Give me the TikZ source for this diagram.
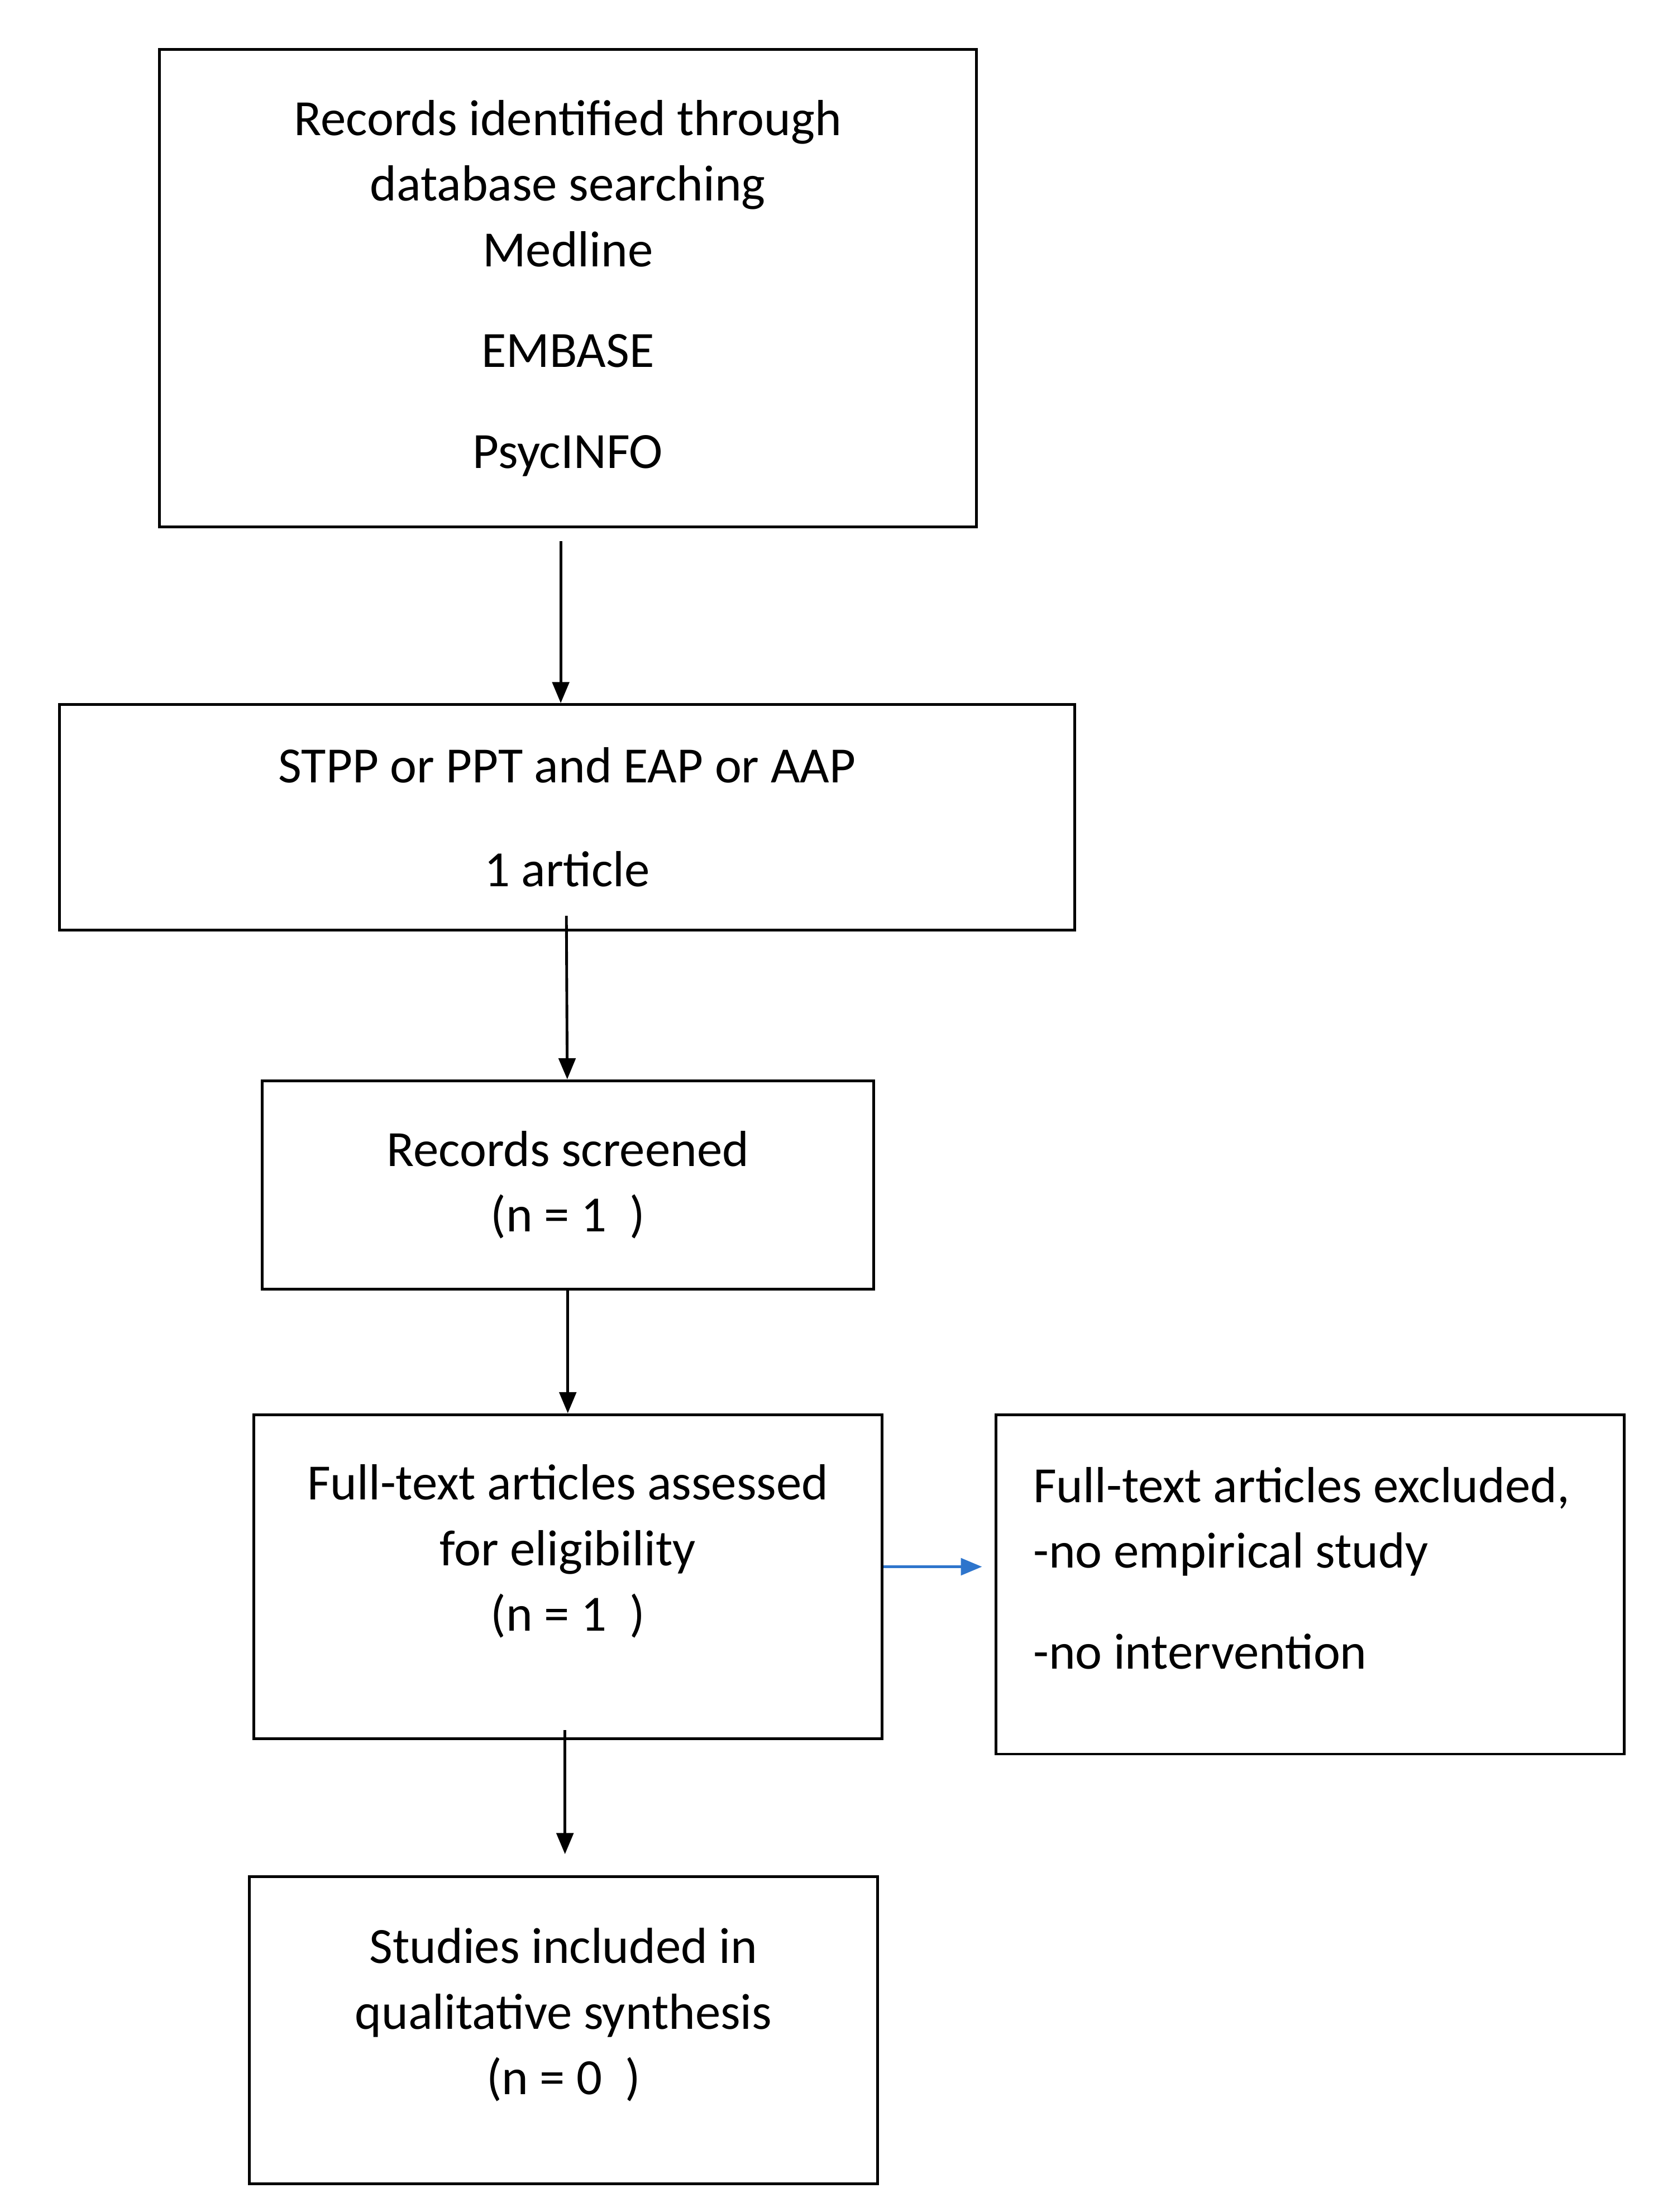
\documentclass[tikz,border=0pt]{standalone}
\usepackage{fontspec}
\setmainfont{Carlito}
\usepackage{tikz}
\usetikzlibrary{positioning, arrows.meta}
\definecolor{arrowblue}{RGB}{46,117,204}

\begin{document}
\begin{tikzpicture}[x=0.02cm, y=-0.02cm,
    box/.style={rectangle, draw, line width=1.1pt, align=center, inner sep=0pt,
        font=\fontsize{20.5}{26.5}\selectfont},
    txt/.style={align=center, inner sep=0pt, font=\fontsize{20.5}{26.5}\selectfont},
    arrow/.style={-{Triangle[length=0.3cm, width=0.24cm]}, line width=1.1pt}
]
    \useasboundingbox (0,0) rectangle (1190,1570);

    % Search
    \node[box, minimum width=11.6cm, minimum height=6.78cm] (search) at (403,204.5)
        {Records identified through\\database searching\\Medline\\[0.5cm]EMBASE\\[0.5cm]PsycINFO};
    \node[box, minimum width=14.42cm, minimum height=3.2cm] (terms) at (402.5,580)
        {STPP or PPT and EAP or AAP\\[0.55cm]1 article};

    % Screening
    \node[box, minimum width=8.68cm, minimum height=2.96cm] (screened) at (403,841)
        {Records screened\\(n = 1\ \ )};
    \node[box, minimum width=8.92cm, minimum height=4.6cm] (eligible) at (403,1119) {};
    \node[txt] (eligibletxt) at (403,1101)
        {Full-text articles assessed\\for eligibility\\(n = 1\ \ )};
    \node[box, minimum width=8.92cm, minimum height=4.82cm] (excluded) at (930,1124.5) {};
    \node[txt, align=left, anchor=west] (excludedtxt) at (733,1113)
        {Full-text articles excluded,\\-no empirical study\\[0.5cm]-no intervention};

    % Included
    \node[box, minimum width=8.92cm, minimum height=4.36cm] (included) at (400,1441) {};
    \node[txt] (includedtxt) at (400,1430)
        {Studies included in\\qualitative synthesis\\(n = 0\ \ )};

    % Arrows
    \draw[arrow] (398,384) -- (terms.north -| 398,0);
    \draw[arrow] (402,650) -- (screened);
    \draw[arrow] (screened) -- (eligible);
    \draw[arrow, arrowblue] (eligible.east |- 0,1112) -- (697,1112);
    \draw[arrow] (401,1228) -- (401,1316);
\end{tikzpicture}
\end{document}
